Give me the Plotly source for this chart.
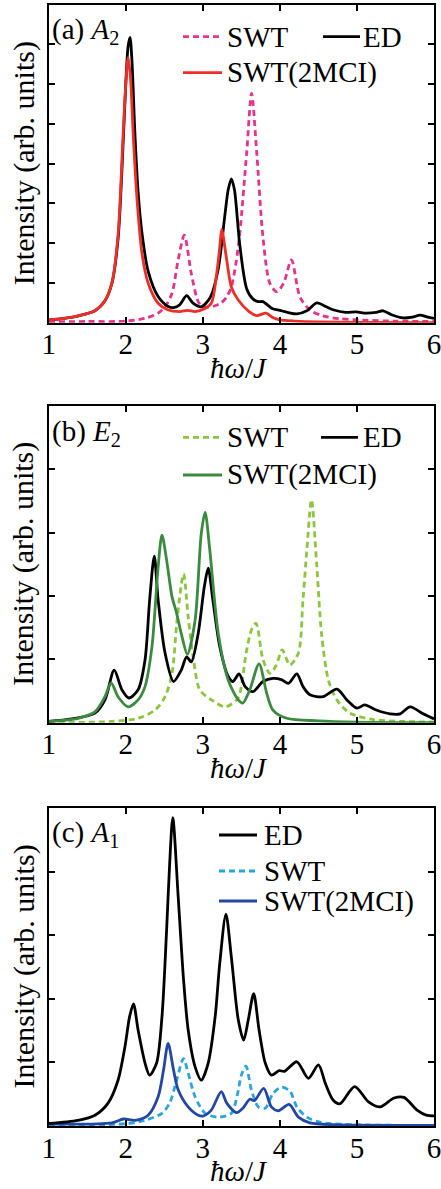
import plotly.graph_objects as go

W, H = 441, 1189

# ---------------- data ----------------
# Panel (a) A2
a_ed_x = [1.0, 1.2, 1.4, 1.6, 1.73, 1.82, 1.9, 1.97, 2.0, 2.03, 2.055, 2.08, 2.12, 2.16, 2.21, 2.29,
          2.42, 2.55, 2.62, 2.7, 2.79, 2.87, 2.98, 3.1, 3.2, 3.28, 3.33, 3.37, 3.41, 3.48, 3.57, 3.65,
          3.72, 3.78, 3.9, 4.0, 4.1, 4.22, 4.35, 4.48, 4.6, 4.7, 4.85, 4.99, 5.12, 5.25, 5.34, 5.45,
          5.6, 5.72, 5.82, 5.92, 6.0]
a_ed_y = [0.07, 0.11, 0.18, 0.3, 0.55, 0.99, 2.1, 4.7, 6.0, 6.95, 7.18, 6.6, 4.7, 3.3, 2.26, 1.3,
          0.66, 0.41, 0.38, 0.45, 0.68, 0.5, 0.4, 0.65, 1.35, 2.6, 3.35, 3.62, 3.35, 1.95, 0.85, 0.6,
          0.53, 0.53, 0.36, 0.31, 0.26, 0.22, 0.3, 0.5, 0.4, 0.32, 0.26, 0.27, 0.24, 0.26, 0.3, 0.2,
          0.12, 0.14, 0.19, 0.14, 0.11]

a_swt_x = [1.0, 1.5, 2.0, 2.25, 2.42, 2.51, 2.6, 2.68, 2.76, 2.85, 2.94, 3.0, 3.07, 3.15, 3.24, 3.31,
           3.37, 3.43, 3.48, 3.57, 3.633, 3.7, 3.78, 3.87, 3.96, 4.05, 4.15, 4.26, 4.39, 4.56, 4.78,
           5.0, 5.5, 6.0]
a_swt_y = [0.03, 0.03, 0.04, 0.11, 0.24, 0.4, 0.74, 1.58, 2.2, 1.24, 0.53, 0.4, 0.39, 0.42, 0.5, 0.65,
           0.9, 1.5, 2.25, 4.3, 5.77, 4.26, 2.16, 0.99, 0.78, 1.0, 1.58, 0.65, 0.32, 0.17, 0.1,
           0.07, 0.04, 0.03]

a_mci_x = [1.0, 1.2, 1.4, 1.6, 1.73, 1.82, 1.9, 1.96, 2.0, 2.03, 2.06, 2.1, 2.15, 2.21, 2.29, 2.42,
           2.55, 2.7, 2.8, 2.9, 3.0, 3.11, 3.18, 3.22, 3.245, 3.31, 3.37, 3.46, 3.6, 3.7, 3.82, 3.9,
           4.0, 4.2, 4.5, 5.0, 6.0]
a_mci_y = [0.07, 0.11, 0.18, 0.3, 0.55, 1.0, 2.2, 4.5, 6.0, 6.67, 6.2, 4.6, 3.0, 1.75, 1.0, 0.49,
           0.32, 0.28, 0.31, 0.28, 0.33, 0.49, 1.24, 1.9, 2.35, 1.58, 0.9, 0.57, 0.28, 0.18, 0.24, 0.14,
           0.07, 0.04, 0.02, 0.01, 0.0]

# Panel (b) E2
b_ed_x = [1.0, 1.3, 1.6, 1.73, 1.85, 1.95, 2.04, 2.16, 2.25, 2.31, 2.37, 2.42, 2.51, 2.62, 2.72, 2.79,
          2.85, 2.94, 3.02, 3.07, 3.13, 3.22, 3.33, 3.39, 3.47, 3.55, 3.65, 3.78, 3.91, 4.02, 4.11,
          4.22, 4.3, 4.39, 4.56, 4.74, 4.87, 5.0, 5.1, 5.25, 5.43, 5.56, 5.69, 5.86, 6.0]
b_ed_y = [0.02, 0.06, 0.15, 0.36, 0.83, 0.52, 0.39, 0.52, 0.99, 1.94, 2.63, 1.94, 1.1, 0.65, 0.83, 1.04,
          0.96, 1.41, 2.15, 2.44, 1.94, 1.2, 0.73, 0.65, 0.77, 0.57, 0.49, 0.65, 0.7, 0.68, 0.62,
          0.77, 0.57, 0.44, 0.41, 0.53, 0.36, 0.23, 0.28, 0.2, 0.14, 0.14, 0.25, 0.14, 0.06]

b_swt_x = [1.0, 1.82, 2.16, 2.38, 2.51, 2.6, 2.67, 2.75, 2.81, 2.88, 2.96, 3.11, 3.29, 3.44, 3.48, 3.57,
           3.63, 3.69, 3.78, 3.87, 3.95, 4.03, 4.13, 4.24, 4.3, 4.35, 4.41, 4.48, 4.54, 4.63, 4.74,
           4.91, 5.21, 5.6, 6.0]
b_swt_y = [0.0, 0.02, 0.07, 0.2, 0.41, 0.78, 1.67, 2.35, 1.67, 0.99, 0.52, 0.36, 0.25, 0.36, 0.46, 1.15,
           1.46, 1.57, 1.0, 0.78, 0.9, 1.15, 0.91, 1.1, 1.94, 2.73, 3.52, 2.46, 1.41, 0.67, 0.36,
           0.15, 0.05, 0.02, 0.01]

b_mci_x = [1.0, 1.38, 1.6, 1.73, 1.81, 1.9, 2.03, 2.16, 2.25, 2.34, 2.42, 2.47, 2.53, 2.6, 2.66, 2.72,
           2.8, 2.9, 2.98, 3.03, 3.09, 3.2, 3.33, 3.46, 3.52, 3.61, 3.73, 3.83, 3.91, 4.09, 4.5, 5.0,
           6.0]
b_mci_y = [0.02, 0.07, 0.17, 0.41, 0.63, 0.41, 0.25, 0.36, 0.57, 1.2, 2.46, 2.96, 2.57, 1.99, 1.73, 1.41,
           1.08, 1.62, 2.99, 3.32, 2.73, 1.41, 0.67, 0.36, 0.31, 0.52, 0.93, 0.46, 0.2, 0.07, 0.03, 0.01,
           0.0]

# Panel (c) A1
c_ed_x = [1.0, 1.38, 1.6, 1.77, 1.9, 1.99, 2.05, 2.1, 2.16, 2.25, 2.31, 2.4, 2.47, 2.53, 2.57, 2.61,
          2.68, 2.75, 2.81, 2.9, 2.98, 3.07, 3.16, 3.22, 3.3, 3.37, 3.46, 3.53, 3.59, 3.66, 3.73,
          3.81, 3.89, 3.99, 4.06, 4.22, 4.37, 4.5, 4.59, 4.69, 4.78, 4.97, 5.15, 5.3, 5.48, 5.61,
          5.78, 5.9, 6.0]
c_ed_y = [0.04, 0.09, 0.17, 0.36, 0.72, 1.25, 1.72, 1.92, 1.51, 0.99, 0.8, 0.99, 1.72, 3.08, 4.13, 4.85,
          3.61, 2.3, 1.51, 0.93, 0.72, 0.99, 1.72, 2.56, 3.33, 2.66, 1.67, 1.35, 1.67, 2.08, 1.51,
          0.99, 0.8, 0.87, 0.86, 1.01, 0.75, 0.96, 0.67, 0.41, 0.35, 0.62, 0.38, 0.3, 0.44, 0.45,
          0.25, 0.17, 0.16]

c_swt_x = [1.0, 2.03, 2.25, 2.47, 2.57, 2.66, 2.75, 2.81, 2.9, 3.03, 3.2, 3.37, 3.45, 3.5, 3.56, 3.63,
           3.72, 3.81, 3.91, 4.02, 4.13, 4.22, 4.35, 4.52, 5.0, 5.7]
c_swt_y = [0.0, 0.04, 0.09, 0.2, 0.36, 0.72, 1.06, 0.83, 0.46, 0.2, 0.14, 0.2, 0.5, 0.8, 0.94, 0.57,
           0.3, 0.28, 0.51, 0.61, 0.55, 0.3, 0.14, 0.06, 0.02, 0.01]

c_mci_x = [1.0, 1.82, 1.97, 2.12, 2.29, 2.42, 2.49, 2.55, 2.62, 2.68, 2.81, 2.94, 3.01, 3.11, 3.24, 3.31,
           3.44, 3.52, 3.61, 3.67, 3.79, 3.89, 3.98, 4.12, 4.24, 4.39, 4.7, 6.0]
c_mci_y = [0.03, 0.05, 0.11, 0.09, 0.17, 0.46, 0.88, 1.3, 0.88, 0.57, 0.3, 0.17, 0.16, 0.25, 0.54, 0.36,
           0.21, 0.28, 0.42, 0.4, 0.59, 0.3, 0.24, 0.34, 0.14, 0.05, 0.02, 0.01]

x_ticks = [1, 2, 3, 4, 5, 6]
x_tick_labels = ["1", "2", "3", "4", "5", "6"]
y_max = [8, 5, 5]
panel_labels = ["(a) <i>A</i><sub>2</sub>", "(b) <i>E</i><sub>2</sub>", "(c) <i>A</i><sub>1</sub>"]
x_title = "<i>ħω</i>/<i>J</i>"
y_title = "Intensity (arb. units)"

# ---------------- styling ----------------
FONT = "Liberation Serif, Times New Roman, serif"
BLACK = "#000000"
PINK = "#E6338D"
RED = "#EE2F28"
LGREEN = "#8CC63E"
DGREEN = "#3A8A3F"
LBLUE = "#2AA4DC"
DBLUE = "#2347A2"
LW = 2.8
DASH = "6px,4px"
FS = 29


def px(x):
    return x / W


def py(y):
    return 1 - y / H


# plot areas in pixels: (left, right, top, bottom)
boxes = [(48.7, 434.0, 4.7, 322.7), (48.7, 434.0, 406.0, 722.7), (48.7, 434.0, 808.0, 1126.0)]

fig = go.Figure()

panels = [
    [(a_swt_x, a_swt_y, PINK, DASH, "SWT"), (a_ed_x, a_ed_y, BLACK, "solid", "ED"),
     (a_mci_x, a_mci_y, RED, "solid", "SWT(2MCI)")],
    [(b_swt_x, b_swt_y, LGREEN, DASH, "SWT"), (b_ed_x, b_ed_y, BLACK, "solid", "ED"),
     (b_mci_x, b_mci_y, DGREEN, "solid", "SWT(2MCI)")],
    [(c_swt_x, c_swt_y, LBLUE, DASH, "SWT"), (c_mci_x, c_mci_y, DBLUE, "solid", "SWT(2MCI)"),
     (c_ed_x, c_ed_y, BLACK, "solid", "ED")],
]

for i, traces in enumerate(panels):
    sfx = "" if i == 0 else str(i + 1)
    for (xs, ys, col, dash, name) in traces:
        fig.add_trace(go.Scatter(x=xs, y=ys, mode="lines", name=name, showlegend=False,
                                 line=dict(color=col, width=LW, dash=dash, shape="spline", smoothing=0.8),
                                 xaxis="x" + sfx, yaxis="y" + sfx))

layout = dict(width=W, height=H, margin=dict(l=0, r=0, t=0, b=0, autoexpand=False),
              paper_bgcolor="white", plot_bgcolor="white", showlegend=False,
              font=dict(family=FONT, size=FS, color=BLACK))

annotations = []
shapes = []
for i, (l, r, t, b) in enumerate(boxes):
    sfx = "" if i == 0 else str(i + 1)
    layout["xaxis" + sfx] = dict(domain=[px(l), px(r)], range=[1, 6], tickvals=x_ticks, ticktext=x_tick_labels,
                                 ticks="inside", ticklen=6, tickwidth=1.5, tickcolor=BLACK,
                                 showline=True, linecolor=BLACK, linewidth=1.6, mirror="ticks",
                                 showgrid=False, zeroline=False, anchor="y" + sfx, ticklabelstandoff=-5,
                                 ticklabeloverflow="allow", automargin=False,
                                 tickfont=dict(family=FONT, size=FS, color=BLACK), fixedrange=True)
    layout["yaxis" + sfx] = dict(domain=[py(b), py(t)], range=[0, y_max[i]], dtick=1,
                                 ticks="inside", ticklen=6, tickwidth=1.5, tickcolor=BLACK,
                                 showticklabels=False, showline=True, linecolor=BLACK, linewidth=1.6,
                                 mirror="ticks", showgrid=False, zeroline=False, anchor="x" + sfx,
                                 automargin=False, fixedrange=True)
    # axis titles
    annotations.append(dict(text=x_title, x=px((l + r) / 2 - 3), y=py(b + 45), xref="paper", yref="paper",
                            showarrow=False, xanchor="center", yanchor="middle",
                            font=dict(family=FONT, size=FS, color=BLACK)))
    annotations.append(dict(text=y_title, x=px(23.5), y=py((t + b) / 2), xref="paper", yref="paper",
                            showarrow=False, textangle=-90, xanchor="center", yanchor="middle",
                            font=dict(family=FONT, size=30, color=BLACK)))

# panel labels
label_pos = [31, 433, 834]
for i, yy in enumerate(label_pos):
    annotations.append(dict(text=panel_labels[i], x=px(50), y=py(yy), xref="paper", yref="paper",
                            showarrow=False, xanchor="left", yanchor="middle",
                            font=dict(family=FONT, size=FS, color=BLACK)))

# legends: (x0, x1, y, color, dash, text, text_x)
legend_items = [
    (183, 222, 36.7, PINK, DASH, "SWT", 225),
    (323, 360, 36.7, BLACK, "solid", "ED", 361),
    (183, 222, 72.7, RED, "solid", "SWT(2MCI)", 225),
    (183, 222, 437.3, LGREEN, DASH, "SWT", 225),
    (321, 358, 437.3, BLACK, "solid", "ED", 361),
    (183, 222, 475.0, DGREEN, "solid", "SWT(2MCI)", 225),
    (219, 257, 835.0, BLACK, "solid", "ED", 262),
    (219, 257, 871.0, LBLUE, DASH, "SWT", 262),
    (219, 257, 901.0, DBLUE, "solid", "SWT(2MCI)", 262),
]
for (x0, x1, yy, col, dash, txt, tx) in legend_items:
    shapes.append(dict(type="line", xref="paper", yref="paper", x0=px(x0), x1=px(x1), y0=py(yy), y1=py(yy),
                       line=dict(color=col, width=LW, dash=dash)))
    annotations.append(dict(text=txt, x=px(tx), y=py(yy), xref="paper", yref="paper", showarrow=False,
                            xanchor="left", yanchor="middle", font=dict(family=FONT, size=FS, color=BLACK)))

layout["annotations"] = annotations
layout["shapes"] = shapes
fig.update_layout(**layout)
fig.write_html("out.html")
